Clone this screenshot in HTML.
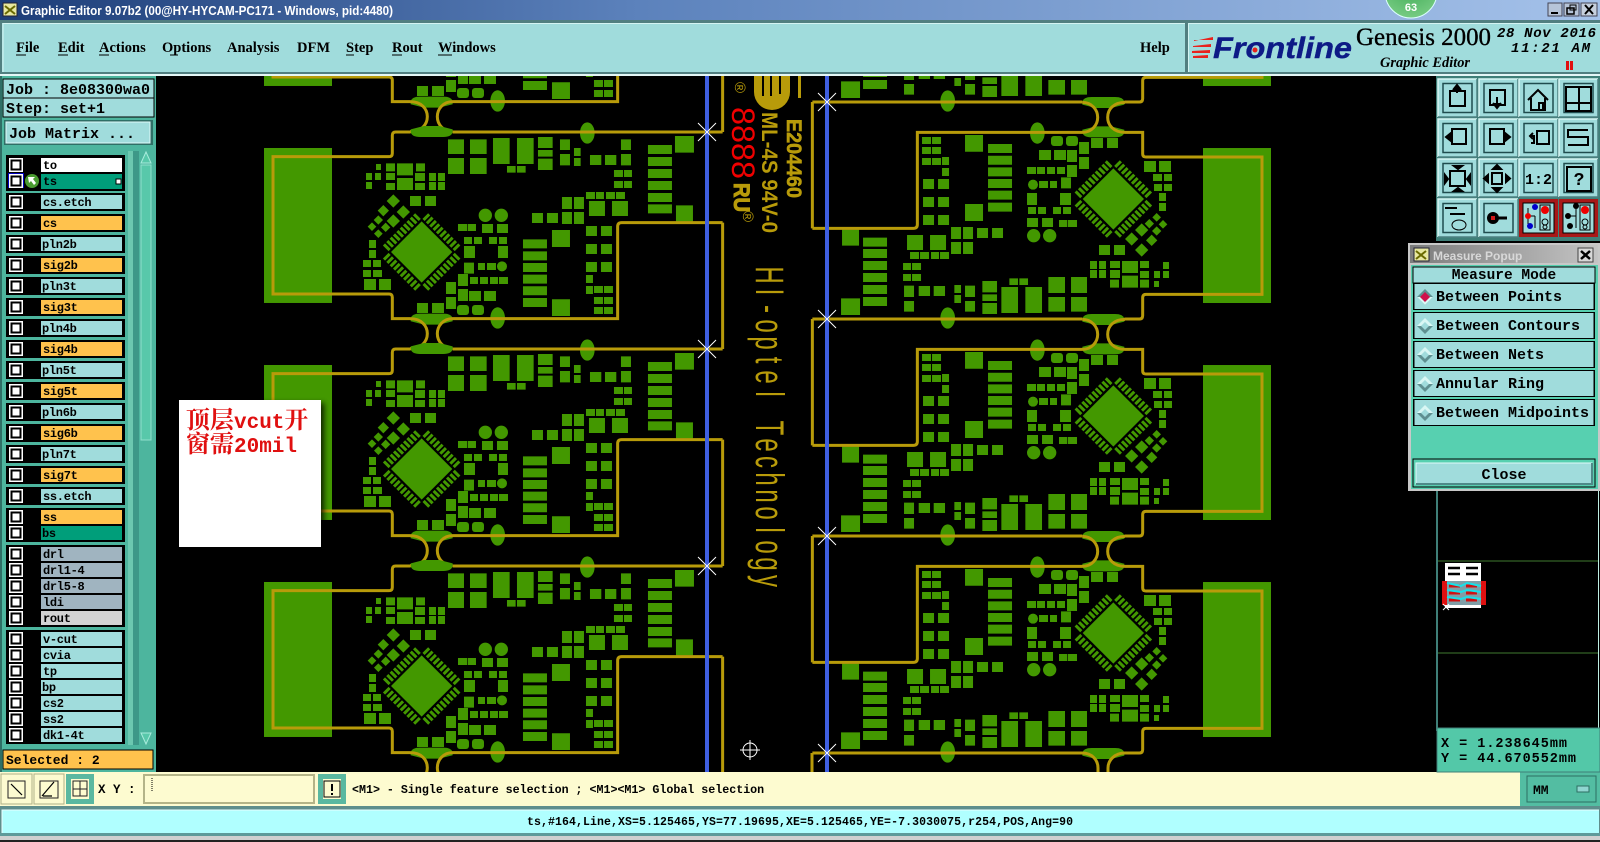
<!DOCTYPE html>
<html><head><meta charset="utf-8"><style>
html,body{margin:0;padding:0;background:#000;width:1600px;height:842px;overflow:hidden}
svg{display:block}
.m{font-family:"Liberation Mono",monospace;font-weight:bold;fill:#000}
.s{font-family:"Liberation Serif",serif;font-weight:bold;fill:#000}
.l{font-size:12px;letter-spacing:-.3px}
.p{font-size:15px}
</style></head><body>
<svg width="1600" height="842" viewBox="0 0 1600 842" xmlns="http://www.w3.org/2000/svg">
<defs>
<linearGradient id="tb" x1="0" x2="1" y1="0" y2="0"><stop offset="0" stop-color="#1d3d78"/><stop offset=".4" stop-color="#5c82bc"/><stop offset="1" stop-color="#a5c2ea"/></linearGradient>
<linearGradient id="pt" x1="0" x2="1" y1="0" y2="0"><stop offset="0" stop-color="#7c7c7c"/><stop offset="1" stop-color="#c4c4c4"/></linearGradient>
<radialGradient id="bub" cx=".5" cy=".3" r=".8"><stop offset="0" stop-color="#3aa850"/><stop offset="1" stop-color="#7fd08a"/></radialGradient>
<filter id="sh" x="-10%" y="-10%" width="125%" height="125%"><feGaussianBlur stdDeviation="3"/></filter>
<clipPath id="cv"><rect x="157" y="76" width="1280" height="696"/></clipPath>
<g id="pads"><path d="M-68.5 -96h9v24h-9zM-54.3 -96h9v24h-9zM-40.1 -96h9v24h-9zM-25.9 -96h9v24h-9zM-11.7 -96h9v24h-9zM2.5 -96h9v24h-9zM16.7 -96h9v24h-9zM30.9 -96h9v24h-9zM45.1 -96h9v24h-9zM59.3 -96h9v24h-9z"/></g>
<g id="mod" transform="translate(340 76) scale(.3333)">
<g fill="#439800">
<rect x="-228" y="216" width="204" height="465"/>
<path d="M324 190h48v44h-48zM390 190h50v44h-50zM459 186h50v78h-50zM531 186h50v78h-50zM594 183h44v33h-44zM594 222h44v20h-44zM594 248h44v34h-44zM660 190h30v32h-30zM702 216h20v24h-20zM660 234h30v34h-30zM702 246h20v24h-20zM843 190h30v32h-30zM843 234h30v34h-30zM750 237h34v30h-34zM795 237h34v30h-34zM324 246h48v48h-48zM390 246h50v48h-50zM501 270h26v20h-26zM531 270h26v20h-26zM1005 180h57v50h-57zM924 207h72v27h-72zM924 243h72v27h-72zM924 279h72v27h-72zM924 315h72v27h-72zM924 351h72v27h-72zM924 385h72v27h-72zM1008 388h51v48h-51z"/>
<path d="M822 282h27v21h-27zM852 282h24v21h-24zM822 315h27v21h-27zM852 315h24v21h-24zM738 348h27v21h-27zM768 348h24v21h-24zM798 348h27v21h-27zM828 348h27v21h-27zM666 363h30v36h-30zM702 363h30v36h-30zM747 375h48v45h-48zM816 375h48v45h-48zM666 408h30v36h-30zM702 408h30v36h-30zM576 411h33v30h-33zM621 411h33v30h-33z"/>
<path d="M108 264h15v18h-15zM138 262h27v24h-27zM171 262h48v36h-48zM228 262h27v24h-27zM78 291h18v21h-18zM105 291h18v21h-18zM138 291h27v21h-27zM171 306h48v36h-48zM225 291h30v24h-30zM267 291h21v24h-21zM294 291h21v24h-21zM78 318h18v21h-18zM138 321h27v21h-27zM225 321h30v21h-30zM267 318h21v24h-21zM294 318h21v24h-21zM210 360h33v30h-33zM255 360h33v30h-33z"/>
<path d="M160 355l20 20-20 20-20-20zM130 387l17 17-17 17-17-17zM190 388l20 20-20 20-20-20zM160 415l20 20-20 20-20-20zM115 418l14 14-14 14-14-14zM96 439l13 13-13 13-13-13zM137 440l14 14-14 14-14-14zM115 460l13 13-13 13-13-13z"/>
<path d="M245 436l92 92-92 92-92-92z"/>
<use href="#pads" transform="translate(245 528) rotate(45)"/><use href="#pads" transform="translate(245 528) rotate(135)"/><use href="#pads" transform="translate(245 528) rotate(225)"/><use href="#pads" transform="translate(245 528) rotate(315)"/>
<circle cx="436" cy="418" r="20"/><circle cx="484" cy="418" r="20"/><circle cx="486" cy="571" r="15"/>
<path d="M354 444h28v21h-28zM384 444h24v21h-24zM426 444h33v27h-33zM471 444h33v27h-33zM372 483h24v21h-24zM402 483h24v21h-24zM447 483h24v21h-24zM477 483h24v21h-24zM372 510h33v36h-33zM474 510h30v36h-30zM372 560h30v33h-30zM414 561h21v21h-21zM441 561h27v21h-27zM354 594h30v36h-30zM390 603h24v21h-24zM420 603h24v21h-24zM450 603h24v21h-24zM477 603h27v21h-27zM318 618h30v36h-30zM354 639h30v36h-30zM387 645h36v30h-36zM432 645h36v30h-36zM318 663h30v36h-30z"/>
<rect x="351" y="687" width="36" height="30" rx="9"/><rect x="396" y="687" width="36" height="30" rx="9"/>
<path d="M69 552h24v21h-24zM99 552h24v21h-24zM87 492h21v24h-21zM87 522h21v24h-21zM69 582h24v21h-24zM99 582h27v21h-27zM72 609h36v33h-36zM117 609h36v33h-36zM231 681h33v30h-33zM276 681h36v30h-36z"/>
<path d="M549 490h72v27h-72zM549 526h72v27h-72zM549 561h72v27h-72zM549 596h72v27h-72zM549 631h72v27h-72zM549 666h72v27h-72zM636 462h54v51h-54zM636 670h54v50h-54zM738 450h33v30h-33zM783 450h33v30h-33zM738 504h33v30h-33zM783 504h33v30h-33zM738 558h33v30h-33zM783 558h33v30h-33zM738 597h21v24h-21zM738 630h21v24h-21zM762 630h27v21h-27zM792 630h27v21h-27zM762 663h27v21h-27zM792 663h27v21h-27zM762 693h27v21h-27zM792 693h27v21h-27z"/>
<ellipse cx="473" cy="726" rx="22" ry="32"/><ellipse cx="742" cy="171" rx="22" ry="32"/>
<path d="M212 168V160L252 150H298L338 160V168Q335 183 310 183H240Q215 183 212 168Z"/>
<path d="M212 728Q215 713 240 713H310Q335 713 338 728V736L298 746H252L212 736Z"/>
</g>
<path fill="none" stroke="#b89b0a" stroke-width="9" d="M212 168H167Q157 168 157 178V232Q157 242 147 242H-201V654H147Q157 654 157 664V728H212M338 168H1148M1148 440H845Q833 440 833 452V728H338M1148 440V819M210 728C245 728 262 750 262 773S245 818 210 818M338 728C310 728 292 750 292 773S310 818 338 818"/>
</g>
<g id="cb"><rect width="14" height="14" fill="#fff"/><rect x="2.5" y="2.5" width="9" height="9" fill="#fff" stroke="#000" stroke-width="2"/></g>
<g id="x" stroke="#fff" stroke-width="1"><path d="M-9 -9L9 9M-9 9L9 -9"/></g>
<g id="btn"><rect width="39" height="38" fill="#a0dcdc"/><path d="M0 38V0H39" fill="none" stroke="#d8f6f4" stroke-width="1.5"/><path d="M0 38H39V0" fill="none" stroke="#4c8080" stroke-width="1.5"/><rect x="5" y="4.5" width="29" height="29" fill="none" stroke="#1f4c4e" stroke-width="1.5"/></g>
<g id="pb"><rect width="182" height="27" fill="#000"/><rect x="1.5" y="1" width="179" height="25" fill="#a0dcdc"/></g>
<g id="rd"><path d="M0 -8L8 0 -8 0z" fill="#d9f7f4"/><path d="M-8 0L8 0 0 8z" fill="#5f8f90"/><path d="M0 -4L4 0 0 4 -4 0z" fill="#a0dcdc"/></g>
</defs>

<!-- canvas -->
<rect width="1600" height="842" fill="#000"/>
<g clip-path="url(#cv)">
<use href="#mod" y="-217"/><use href="#mod"/><use href="#mod" y="217"/><use href="#mod" y="434"/>
<g transform="rotate(180 767.5 225.5)"><use href="#mod" y="217"/><use href="#mod"/><use href="#mod" y="-217"/><use href="#mod" y="-434"/></g>
<path fill="none" stroke="#b89b0a" stroke-width="3" d="M812 753V772M1082 753C1092 753 1098 760 1098 768V772M1125 753C1115 753 1108 760 1108 768V772"/>
<!-- silk -->
<g fill="#b89b0a">
<circle cx="772" cy="92" r="18"/><rect x="754" y="76" width="36" height="16"/>
<path d="M763 76v20M771 76v20M780 76v18" stroke="#000" stroke-width="2"/>
<rect x="798" y="76" width="3" height="22"/>
<text transform="translate(787 119) rotate(90)" font-family="Liberation Sans,sans-serif" font-weight="bold" font-size="21" textLength="79" lengthAdjust="spacingAndGlyphs" stroke="#b89b0a" stroke-width=".6">E204460</text>
<text transform="translate(762 112) rotate(90)" font-family="Liberation Sans,sans-serif" font-weight="bold" font-size="22" textLength="121" lengthAdjust="spacingAndGlyphs">ML-4S 94V-0</text>
<text transform="translate(734 183) rotate(90)" font-family="Liberation Sans,sans-serif" font-weight="bold" font-size="22" textLength="29" lengthAdjust="spacingAndGlyphs" stroke="#b89b0a" stroke-width="1">RU</text>
<text transform="translate(735 82) rotate(90)" font-family="Liberation Sans,sans-serif" font-size="15">®</text>
<text transform="translate(743 211) rotate(90)" font-family="Liberation Sans,sans-serif" font-size="15">®</text>
<text transform="translate(756 268) rotate(90) scale(.6 1)" font-family="Liberation Sans,sans-serif" font-size="40" text-anchor="middle" x="11.7 40 68.4 96.7 125 153.4 181.7 210 238.4 266.7 295 323.4 351.7 380 408.4 436.7 465 493.4 521.7">HI-optel Technology</text>
</g>
<text transform="translate(732 107) rotate(90)" fill="#f00000" font-family="Liberation Sans,sans-serif" font-size="32" textLength="72" lengthAdjust="spacingAndGlyphs">8888</text>
<!-- vcut lines -->
<rect x="705" y="76" width="4" height="696" fill="#3f5fe0"/><rect x="825" y="76" width="4" height="696" fill="#3f5fe0"/>
<use href="#x" x="707" y="132"/><use href="#x" x="707" y="349"/><use href="#x" x="707" y="566"/>
<use href="#x" x="827" y="102"/><use href="#x" x="827" y="319"/><use href="#x" x="827" y="536"/><use href="#x" x="827" y="753"/>
<!-- crosshair -->
<g stroke="#fff" stroke-width="1" fill="none"><circle cx="750" cy="750" r="7"/><path d="M740 750H760M750 740V760"/></g>
<!-- note -->
<rect x="182" y="403" width="142" height="147" fill="#000" opacity=".8" filter="url(#sh)"/>
<rect x="179" y="400" width="142" height="147" fill="#fff"/>
<text x="186" y="428" fill="#e01010" font-family="Liberation Mono,Noto Serif CJK SC,serif" font-weight="bold" font-size="24">顶层<tspan font-size="21">vcut</tspan>开</text>
<text x="186" y="452" fill="#e01010" font-family="Liberation Mono,Noto Serif CJK SC,serif" font-weight="bold" font-size="24">窗需<tspan font-size="21">20mil</tspan></text>
</g>

<!-- title bar -->
<rect width="1600" height="20" fill="url(#tb)"/>
<rect x="3" y="3" width="14" height="13" fill="#e8e8a0" stroke="#223" stroke-width="1"/><path d="M5 6l10 8M15 6L5 14" stroke="#6a6a00" stroke-width="2"/>
<text x="21" y="15" fill="#fff" font-family="Liberation Sans,sans-serif" font-size="12.5" font-weight="bold" textLength="372" lengthAdjust="spacingAndGlyphs">Graphic Editor 9.07b2 (00@HY-HYCAM-PC171 - Windows, pid:4480)</text>
<circle cx="1411" cy="-8" r="26" fill="url(#bub)" stroke="#dff" stroke-width="1"/>
<text x="1411" y="11" fill="#fff" font-family="Liberation Sans,sans-serif" font-size="11" font-weight="bold" text-anchor="middle">63</text>
<g font-family="Liberation Sans,sans-serif" font-weight="bold">
<rect x="1548" y="3" width="14" height="13" fill="#b6c4d8" stroke="#445"/><rect x="1551" y="12" width="7" height="2" fill="#000"/>
<rect x="1564" y="3" width="15" height="13" fill="#b6c4d8" stroke="#445"/><rect x="1567" y="8" width="7" height="6" fill="none" stroke="#000" stroke-width="1.5"/><rect x="1570" y="5" width="6" height="5" fill="none" stroke="#000"/>
<rect x="1581" y="3" width="16" height="13" fill="#c6d0de" stroke="#445"/><path d="M1585 5l8 9M1593 5l-8 9" stroke="#000" stroke-width="2"/>
</g>

<!-- menu bar -->
<rect y="20" width="1600" height="56" fill="#517f80"/>
<rect x="2" y="23" width="1183" height="49" fill="#a0dcdc"/><path d="M3 72V23.500H1185" fill="none" stroke="#d4f4f2" stroke-width="1"/>
<rect x="1188" y="23" width="412" height="49" fill="#a0dcdc"/><path d="M1188.500 72V23.500H1600" fill="none" stroke="#d4f4f2" stroke-width="1"/>
<rect x="0" y="74" width="1600" height="2" fill="#e4f6f6"/>
<g class="s" font-size="14.5">
<text class="s" x="16" y="52">File</text><text class="s" x="58" y="52">Edit</text><text class="s" x="99" y="52">Actions</text><text class="s" x="162" y="52">Options</text><text class="s" x="227" y="52">Analysis</text><text class="s" x="297" y="52">DFM</text><text class="s" x="346" y="52">Step</text><text class="s" x="392" y="52">Rout</text><text class="s" x="438" y="52">Windows</text><text class="s" x="1140" y="52">Help</text>
</g>
<path d="M16 55h10M58 55h10M99 55h10M170 55h8M346 55h8M392 55h10M438 55h14" stroke="#000" stroke-width="1"/>
<!-- logo -->
<path d="M1194 41l19 -4v3h-19zM1193 46l18 -2v3h-18zM1192 51l18 -1v3h-18zM1193 56l15 -1v3h-15z" fill="#e8221c"/>
<text x="1213" y="58" fill="#0d1a86" stroke="#0d1a86" stroke-width=".4" font-family="Liberation Sans,sans-serif" font-weight="bold" font-style="italic" font-size="30" textLength="139" lengthAdjust="spacingAndGlyphs">Frontline</text>
<circle cx="1255" cy="50" r="2.5" fill="#e8221c"/>
<text x="1356" y="45" fill="#000" stroke="#000" stroke-width=".35" font-family="Liberation Serif,serif" font-size="25" textLength="135" lengthAdjust="spacingAndGlyphs">Genesis 2000</text>
<text x="1380" y="67" fill="#000" font-family="Liberation Serif,serif" font-weight="bold" font-style="italic" font-size="14.5" textLength="90" lengthAdjust="spacingAndGlyphs">Graphic Editor</text>
<g font-family="Liberation Mono,monospace" font-weight="bold" font-style="italic" fill="#000" font-size="14">
<text x="1497" y="37" textLength="99" lengthAdjust="spacing">28 Nov 2016</text><text x="1511" y="52" textLength="79" lengthAdjust="spacing">11:21 AM</text></g>
<rect x="1566" y="61" width="3" height="9" fill="#e01010"/><rect x="1570" y="61" width="3" height="9" fill="#e01010"/>

<!-- left panel -->
<rect x="0" y="76" width="156" height="696" fill="#4db59e"/>
<rect x="0" y="76" width="2" height="696" fill="#2f6f66"/>
<rect x="3" y="79" width="151" height="19" fill="#a0dcdc" stroke="#000"/><rect x="3" y="98" width="151" height="19" fill="#a0dcdc" stroke="#000"/>
<text class="m p" x="6" y="94">Job : 8e08300wa0</text><text class="m p" x="6" y="113">Step: set+1</text>
<rect x="4" y="120" width="149" height="25" fill="#2f6f66"/><rect x="6" y="122" width="144" height="21" fill="#a0dcdc" stroke="#e0fafa"/>
<text class="m p" x="9" y="138">Job Matrix ...</text>
<rect x="128" y="151" width="5" height="594" fill="#6cc8b0"/>
<rect x="133" y="151" width="6" height="594" fill="#3d9888"/>
<rect x="139" y="151" width="17" height="594" fill="#4db59e"/>
<rect x="141" y="165" width="10" height="275" fill="#58c8aa" stroke="#8fe0cc"/>
<path d="M141 163l5 -11 5 11z" fill="#58c8aa" stroke="#a8ecdc"/><path d="M141 733l5 11 5 -11z" fill="#58c8aa" stroke="#a8ecdc"/>
<rect x="6" y="155" width="119" height="36" fill="#000"/>
<g fill="#000"><rect x="6" y="193" width="119" height="18"/><rect x="6" y="214" width="119" height="18"/><rect x="6" y="235" width="119" height="18"/><rect x="6" y="256" width="119" height="18"/><rect x="6" y="277" width="119" height="18"/><rect x="6" y="298" width="119" height="18"/><rect x="6" y="319" width="119" height="18"/><rect x="6" y="340" width="119" height="18"/><rect x="6" y="361" width="119" height="18"/><rect x="6" y="382" width="119" height="18"/><rect x="6" y="403" width="119" height="18"/><rect x="6" y="424" width="119" height="18"/><rect x="6" y="445" width="119" height="18"/><rect x="6" y="466" width="119" height="18"/><rect x="6" y="487" width="119" height="18"/><rect x="6" y="508" width="119" height="34"/><rect x="6" y="545" width="119" height="82"/><rect x="6" y="630" width="119" height="114"/></g>
<g fill="#a0dcdc">
<rect x="41" y="158" width="81" height="14" fill="#fff"/><rect x="41" y="174" width="81" height="15" fill="#009e7a"/>
<rect x="41" y="195" width="81" height="14"/><rect x="41" y="216" width="81" height="14" fill="#ffc24d"/><rect x="41" y="237" width="81" height="14"/><rect x="41" y="258" width="81" height="14" fill="#ffc24d"/><rect x="41" y="279" width="81" height="14"/><rect x="41" y="300" width="81" height="14" fill="#ffc24d"/><rect x="41" y="321" width="81" height="14"/><rect x="41" y="342" width="81" height="14" fill="#ffc24d"/><rect x="41" y="363" width="81" height="14"/><rect x="41" y="384" width="81" height="14" fill="#ffc24d"/><rect x="41" y="405" width="81" height="14"/><rect x="41" y="426" width="81" height="14" fill="#ffc24d"/><rect x="41" y="447" width="81" height="14"/><rect x="41" y="468" width="81" height="14" fill="#ffc24d"/><rect x="41" y="489" width="81" height="14"/>
<rect x="41" y="510" width="81" height="14" fill="#ffc24d"/><rect x="41" y="526" width="81" height="14" fill="#009e7a"/>
<rect x="41" y="547" width="81" height="14" fill="#a0b4c0"/><rect x="41" y="563" width="81" height="14" fill="#a0b4c0"/><rect x="41" y="579" width="81" height="14" fill="#a0b4c0"/><rect x="41" y="595" width="81" height="14" fill="#a0b4c0"/><rect x="41" y="611" width="81" height="14" fill="#d3d3d3"/>
<rect x="41" y="632" width="81" height="14"/><rect x="41" y="648" width="81" height="14"/><rect x="41" y="664" width="81" height="14"/><rect x="41" y="680" width="81" height="14"/><rect x="41" y="696" width="81" height="14"/><rect x="41" y="712" width="81" height="14"/><rect x="41" y="728" width="81" height="14"/>
</g>
<use href="#cb" x="9" y="158"/><rect x="8" y="173" width="16" height="15" fill="#0000c0"/><use href="#cb" x="9" y="174"/>
<circle cx="32" cy="181" r="7" fill="#4a9a30"/><path d="M28 177h7l-2 2 3 4-2 2-3-4-2 2z" fill="#fff"/>
<rect x="116" y="179" width="5" height="5" fill="#fff" stroke="#000"/>
<use href="#cb" x="9" y="195"/><use href="#cb" x="9" y="216"/><use href="#cb" x="9" y="237"/><use href="#cb" x="9" y="258"/><use href="#cb" x="9" y="279"/><use href="#cb" x="9" y="300"/><use href="#cb" x="9" y="321"/><use href="#cb" x="9" y="342"/><use href="#cb" x="9" y="363"/><use href="#cb" x="9" y="384"/><use href="#cb" x="9" y="405"/><use href="#cb" x="9" y="426"/><use href="#cb" x="9" y="447"/><use href="#cb" x="9" y="468"/><use href="#cb" x="9" y="489"/>
<use href="#cb" x="9" y="510"/><use href="#cb" x="9" y="526"/><use href="#cb" x="9" y="547"/><use href="#cb" x="9" y="563"/><use href="#cb" x="9" y="579"/><use href="#cb" x="9" y="595"/><use href="#cb" x="9" y="611"/><use href="#cb" x="9" y="632"/><use href="#cb" x="9" y="648"/><use href="#cb" x="9" y="664"/><use href="#cb" x="9" y="680"/><use href="#cb" x="9" y="696"/><use href="#cb" x="9" y="712"/><use href="#cb" x="9" y="728"/>
<g class="m l">
<text class="m l" x="43" y="169">to</text><text class="m l" x="43" y="185">ts</text><text class="m l" x="43" y="206">cs.etch</text><text class="m l" x="43" y="227">cs</text><text class="m l" x="42" y="248">pln2b</text><text class="m l" x="43" y="269">sig2b</text><text class="m l" x="42" y="290">pln3t</text><text class="m l" x="43" y="311">sig3t</text><text class="m l" x="42" y="332">pln4b</text><text class="m l" x="43" y="353">sig4b</text><text class="m l" x="42" y="374">pln5t</text><text class="m l" x="43" y="395">sig5t</text><text class="m l" x="42" y="416">pln6b</text><text class="m l" x="43" y="437">sig6b</text><text class="m l" x="42" y="458">pln7t</text><text class="m l" x="43" y="479">sig7t</text><text class="m l" x="43" y="500">ss.etch</text>
<text class="m l" x="43" y="521">ss</text><text class="m l" x="42" y="537">bs</text><text class="m l" x="43" y="558">drl</text><text class="m l" x="43" y="574">drl1-4</text><text class="m l" x="43" y="590">drl5-8</text><text class="m l" x="43" y="606">ldi</text><text class="m l" x="43" y="622">rout</text>
<text class="m l" x="43" y="643">v-cut</text><text class="m l" x="43" y="659">cvia</text><text class="m l" x="43" y="675">tp</text><text class="m l" x="42" y="691">bp</text><text class="m l" x="43" y="707">cs2</text><text class="m l" x="43" y="723">ss2</text><text class="m l" x="43" y="739">dk1-4t</text>
</g>
<rect x="3" y="750" width="150" height="19" fill="#ffc24d" stroke="#000"/>
<text class="m" font-size="13" x="6" y="764">Selected : 2</text>

<!-- bottom bar -->
<rect x="0" y="772" width="1520" height="34" fill="#fdfbd0"/>
<rect x="1" y="774" width="31" height="30" fill="#fdfbd0" stroke="#b0b088"/><rect x="34" y="774" width="30" height="30" fill="#fdfbd0" stroke="#b0b088"/>
<rect x="66" y="774" width="28" height="30" fill="#5ab8a0"/><rect x="71" y="779" width="18" height="20" fill="#fdfbd0"/>
<rect x="8" y="781" width="17" height="17" fill="none" stroke="#222"/><path d="M11 784l11 11" stroke="#000" stroke-width="1.2"/>
<rect x="40" y="781" width="18" height="17" fill="none" stroke="#222"/><path d="M42 796l12 -14M43 796h9" stroke="#000" stroke-width="1.2"/>
<rect x="73" y="781" width="14" height="15" fill="none" stroke="#222"/><path d="M73 789h14M80 781v15" stroke="#222"/>
<text class="m" font-size="12.5" x="98" y="793">X Y :</text>
<rect x="144" y="775" width="170" height="28" fill="#fdfbd0" stroke="#b4b488" stroke-width="2"/>
<path d="M152 778v14" stroke="#000" stroke-dasharray="1 1"/>
<rect x="318" y="774" width="28" height="30" fill="#5ab8a0"/><rect x="323" y="779" width="18" height="20" fill="#fdfbd0"/>
<rect x="324" y="781" width="16" height="16" fill="none" stroke="#000"/><rect x="331" y="784" width="2" height="7" fill="#000"/><rect x="331" y="793" width="2" height="2" fill="#000"/>
<text class="m" font-size="11.65" x="352" y="793">&lt;M1&gt; - Single feature selection ; &lt;M1&gt;&lt;M1&gt; Global selection</text>
<rect x="1520" y="772" width="80" height="34" fill="#53bda2"/><rect x="1527" y="776" width="69" height="26" fill="#53bda2" stroke="#2c6e62"/>
<text class="m" font-size="13" x="1533" y="794">MM</text><rect x="1577" y="786" width="12" height="6" fill="#8fd6d0" stroke="#2c6e62"/>
<rect x="0" y="806" width="1600" height="36" fill="#5e8e8c"/>
<rect x="2" y="810" width="1597" height="23" fill="#b0ffff"/>
<path d="M2 833V810H1599" fill="none" stroke="#e8ffff"/>
<rect x="0" y="833" width="1600" height="3" fill="#5e9a9a"/><rect x="0" y="836" width="1600" height="4" fill="#d0d0d0"/><rect x="0" y="840" width="1600" height="2" fill="#222"/>
<text class="m" font-size="11.5" x="800" y="825" text-anchor="middle" textLength="546" lengthAdjust="spacing">ts,#164,Line,XS=5.125465,YS=77.19695,XE=5.125465,YE=-7.3030075,r254,POS,Ang=90</text>

<!-- right toolbar -->
<rect x="1436" y="76" width="164" height="165" fill="#3f7f78"/>
<use href="#btn" x="1438" y="79"/><use href="#btn" x="1479" y="79"/><use href="#btn" x="1519" y="79"/><use href="#btn" x="1559" y="79"/>
<use href="#btn" x="1438" y="119"/><use href="#btn" x="1479" y="119"/><use href="#btn" x="1519" y="119"/><use href="#btn" x="1559" y="119"/>
<use href="#btn" x="1438" y="159"/><use href="#btn" x="1479" y="159"/><use href="#btn" x="1519" y="159"/><use href="#btn" x="1559" y="159"/>
<use href="#btn" x="1438" y="199"/><use href="#btn" x="1479" y="199"/>
<rect x="1519" y="199" width="39" height="38" fill="#a81818"/><rect x="1523" y="203" width="31" height="30" fill="#a0dcdc" stroke="#000"/>
<rect x="1559" y="199" width="39" height="38" fill="#a81818"/><rect x="1563" y="203" width="31" height="30" fill="#a0dcdc" stroke="#000"/>
<g fill="none" stroke="#000" stroke-width="2">
<rect x="1450" y="91" width="15" height="15"/><path d="M1457 85v8M1453 90l4 -5 4 5" fill="#000"/>
<rect x="1490" y="90" width="15" height="15"/><path d="M1497 97v10M1493 103l4 5 4 -5" fill="#000"/>
<path d="M1528 100l10 -10 10 10M1531 98v12h14V98M1539 110v-7h4v7"/>
<rect x="1566" y="87" width="25" height="24"/><path d="M1566 103h25M1579 87v24"/>
<rect x="1452" y="129" width="14" height="15"/><path d="M1446 137l5 -4v8z" fill="#000"/>
<rect x="1490" y="129" width="14" height="15"/><path d="M1510 137l-5 -4v8z" fill="#000"/>
<rect x="1537" y="131" width="12" height="13"/><path d="M1533 133l-3 3 3 3M1530 136h4v7h-3"/>
<path d="M1588 130h-20v7h20v8h-20"/>
<rect x="1450" y="171" width="15" height="15"/><path d="M1454 166h8l-4 3zM1454 191h8l-4 -3zM1445 175v8l3 -4zM1470 175v8l-3 -4z" fill="#000"/>
<rect x="1492" y="173" width="10" height="11"/><path d="M1493 169h8l-4 -4zM1493 188h8l-4 4zM1488 175v7l-4 -3.500zM1506 175v7l4 -3.500z" fill="#000"/>
<rect x="1567" y="167" width="24" height="24"/>
<path d="M1445 208h12M1450 214h15"/>
<ellipse cx="1459" cy="225" rx="7" ry="5" stroke-width="1"/>
<path d="M1493 218h14" stroke-width="3"/>
</g>
<text class="m" font-size="15" x="1538.500" y="184" text-anchor="middle">1:2</text>
<text class="m" font-size="18" x="1579" y="185" text-anchor="middle">?</text>
<circle cx="1493" cy="218" r="6" fill="#000"/><rect x="1491" y="216" width="4" height="4" fill="#d01818"/>
<g fill="none" stroke="#000"><path d="M1528 208v16M1526 216h9M1535 216v12"/><rect x="1540" y="205" width="10" height="25"/><circle cx="1545" cy="222" r="3"/><circle cx="1545" cy="227" r="2"/></g>
<circle cx="1535" cy="207" r="3" fill="#00c"/><circle cx="1528" cy="216" r="3" fill="#e00"/><circle cx="1530" cy="226" r="3" fill="#00c"/><circle cx="1545" cy="210" r="4" fill="#e00"/>
<g fill="none" stroke="#000"><rect x="1580" y="205" width="10" height="25"/><circle cx="1585" cy="222" r="3"/><circle cx="1585" cy="227" r="2"/><path d="M1568 216h8M1576 206v22"/></g>
<circle cx="1576" cy="206" r="3" fill="#000"/><circle cx="1568" cy="216" r="3" fill="#000"/><circle cx="1570" cy="226" r="3" fill="#000"/><circle cx="1585" cy="210" r="4" fill="#e00"/>

<!-- lower right area -->
<rect x="1436" y="491" width="2" height="240" fill="#3f7f78"/>
<rect x="1598" y="491" width="1" height="237" fill="#bfeee4"/>
<path d="M1438 561H1598M1438 653H1598" stroke="#3f7a30" stroke-width="1"/>
<rect x="1445" y="563" width="36" height="45" fill="#fff"/>
<path d="M1448 568h12M1466 568h12M1448 574h12M1466 574h12" stroke="#000" stroke-width="2.500"/>
<rect x="1442" y="581" width="44" height="24" fill="#e01010"/>
<rect x="1447" y="581" width="34" height="24" fill="#7f9fa8"/>
<path d="M1449 586h11M1466 586h11M1449 593h11M1466 593h11M1449 600h11M1466 600h11" stroke="#d01010" stroke-width="3"/>
<path d="M1447 583l14 3 6 -3 14 3M1447 590l14 2 6 -2 14 2M1447 597l14 2 6 -2 14 2" stroke="#18e0e8" stroke-width="2" fill="none"/>
<path d="M1443 604l6 6M1449 604l-6 6" stroke="#fff"/>
<rect x="1437" y="728" width="163" height="44" fill="#53c8a8" stroke="#3f7f78"/>
<text class="m" font-size="13.5" x="1441" y="747" textLength="126" lengthAdjust="spacing">X = 1.238645mm</text>
<text class="m" font-size="13.5" x="1441" y="762" textLength="135" lengthAdjust="spacing">Y = 44.670552mm</text>

<!-- popup -->
<rect x="1408" y="243" width="192" height="248" fill="#c8c8c8"/>
<rect x="1410" y="245" width="188" height="18" fill="url(#pt)"/>
<rect x="1414" y="248" width="15" height="13" fill="#e8e8a0" stroke="#223"/><path d="M1416 251l10 8M1426 251l-10 8" stroke="#6a6a00" stroke-width="2"/>
<text x="1433" y="260" fill="#d8d8d8" font-family="Liberation Sans,sans-serif" font-weight="bold" font-size="12">Measure Popup</text>
<rect x="1578" y="248" width="15" height="14" fill="#d8d8d8" stroke="#444"/><path d="M1581 251l9 8M1590 251l-9 8" stroke="#000" stroke-width="2.500"/>
<rect x="1411" y="265" width="187" height="224" fill="#57d0b0"/>
<rect x="1413" y="267" width="182" height="16" fill="#a0dcdc" stroke="#000"/>
<text class="m" font-size="14.500" x="1504" y="279" text-anchor="middle">Measure Mode</text>
<use href="#pb" x="1413" y="283"/><use href="#pb" x="1413" y="312"/><use href="#pb" x="1413" y="341"/><use href="#pb" x="1413" y="370"/><use href="#pb" x="1413" y="399"/>
<path d="M1425 289l8 8 -8 8 -8 -8z" fill="#5f8f90"/><path d="M1425 305l8 -8 -8 0 -8 0z" fill="#d9f7f4"/><path d="M1425 292l5 5 -5 5 -5 -5z" fill="#d0104c"/>
<use href="#rd" x="1425" y="326"/><use href="#rd" x="1425" y="355"/><use href="#rd" x="1425" y="384"/><use href="#rd" x="1425" y="413"/>
<text class="m p" x="1436" y="301">Between Points</text><text class="m p" x="1436" y="330">Between Contours</text><text class="m p" x="1436" y="359">Between Nets</text><text class="m p" x="1436" y="388">Annular Ring</text><text class="m p" x="1436" y="417">Between Midpoints</text>
<rect x="1413" y="459" width="182" height="28" fill="#57d0b0" stroke="#000"/>
<rect x="1416" y="463" width="176" height="21" fill="#a0dcdc" stroke="#e0fafa"/><path d="M1416 484H1592V463" fill="none" stroke="#4f8a88" stroke-width="2"/>
<text class="m p" x="1504" y="479" text-anchor="middle">Close</text>
</svg>
</body></html>
